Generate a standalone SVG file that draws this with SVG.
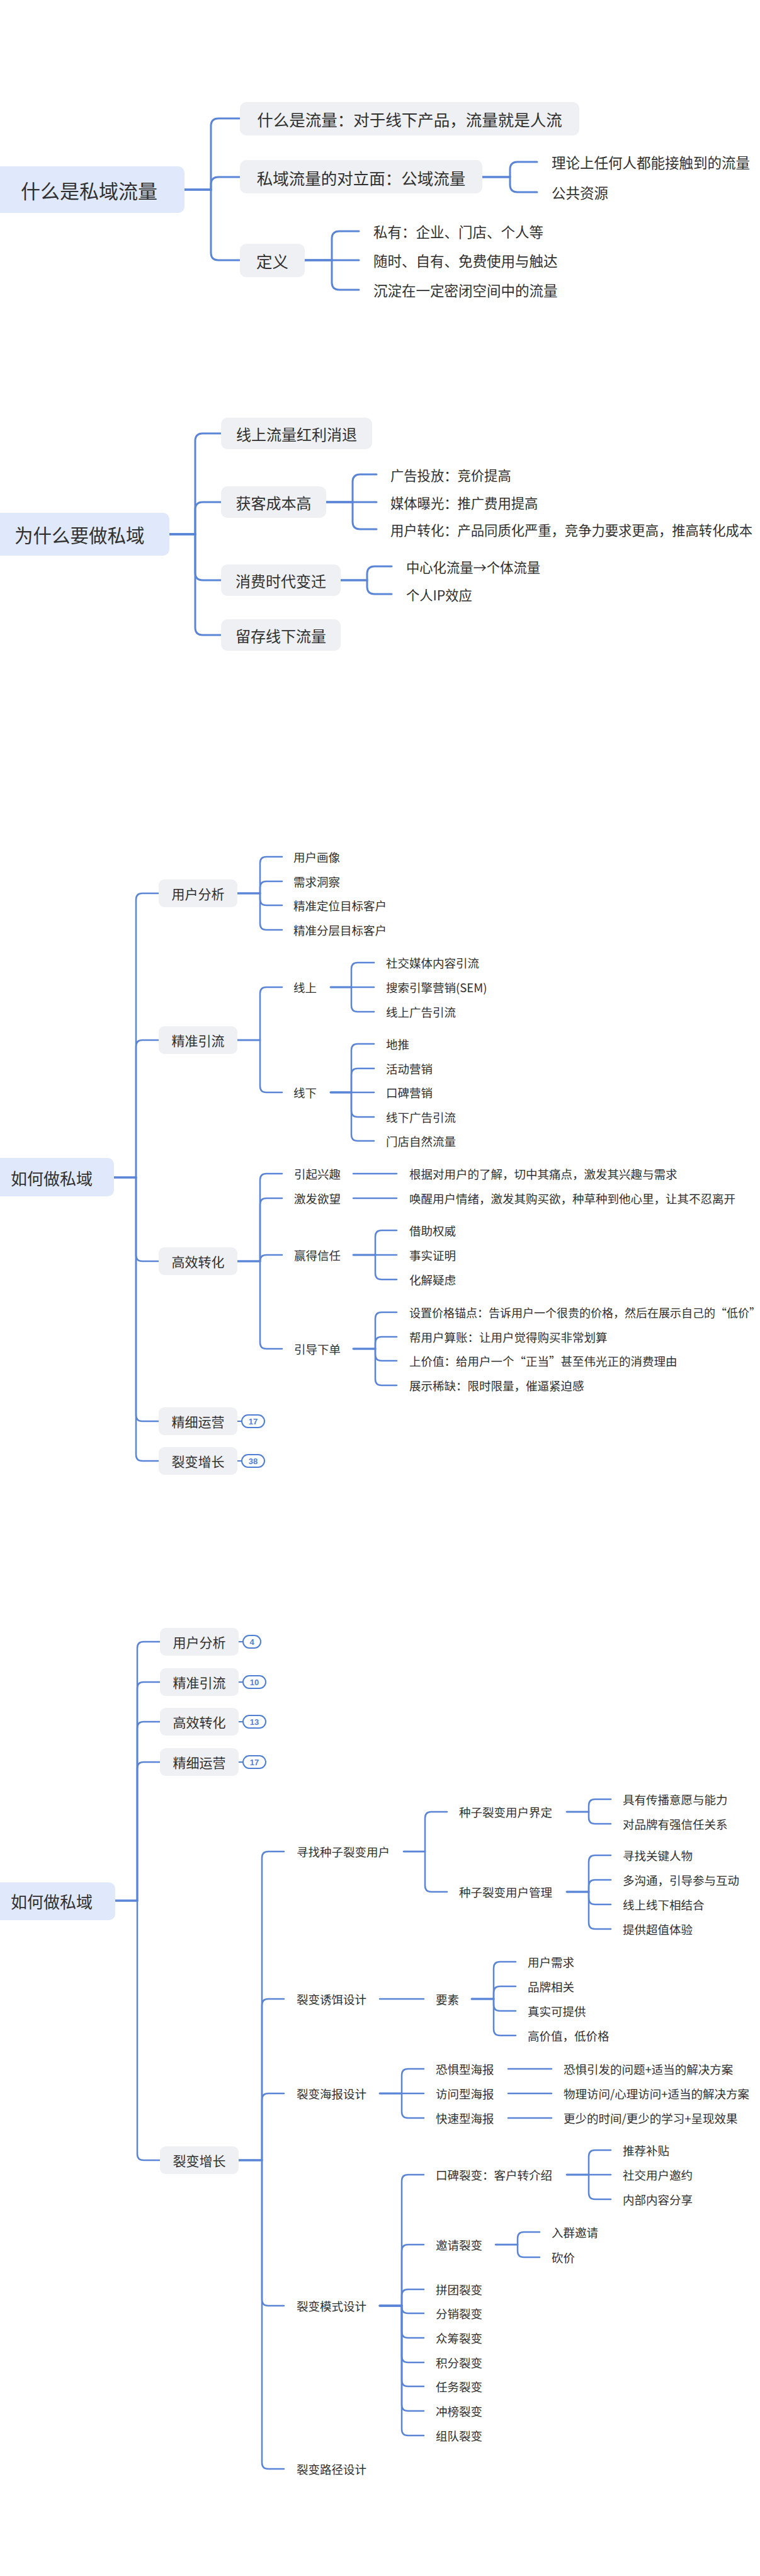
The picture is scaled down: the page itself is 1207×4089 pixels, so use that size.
<svg xmlns="http://www.w3.org/2000/svg" width="1207" height="4089" viewBox="0 0 1207 4089">
<style>
text{font-family:"Noto Sans CJK SC","Noto Sans",sans-serif;fill:#303030;dominant-baseline:central}
.root{fill:#e0e8fb}
.box{fill:#eef0f3}
.t1{font-size:31px}
.t2{font-size:29.5px}
.t3{font-size:26px}
.m1{font-size:25.5px;text-anchor:middle}
.m2{font-size:24px;text-anchor:middle}
.m3{font-size:21px;text-anchor:middle}
.l1{font-size:22.5px}
.l2{font-size:21.3px}
.l3{font-size:18.5px}
.l3s{font-size:18px}
.con path{fill:none;stroke:#5a85d6;stroke-width:2.5;stroke-linecap:round}
.con .thick path{stroke-width:3}
.badge rect{fill:#fff;stroke:#4f7fd3;stroke-width:2}
.badge line{stroke:#4f7fd3;stroke-width:2}
.badge text{font-family:"Liberation Sans",Arial,sans-serif;font-weight:bold;font-size:13px;fill:#4f7fd3;text-anchor:middle}
</style>

<g id="connectors" class="con">
<g class="thick">
<path d="M293 301 H335 V200 Q335 188 347 188 H381"/>
<path d="M293 301 H335 V293 Q335 281 347 281 H381"/>
<path d="M293 301 H335 V401 Q335 413 347 413 H381"/>
<path d="M766 281 H810 V269 Q810 257 822 257 H853"/>
<path d="M766 281 H810 V293 Q810 305 822 305 H853"/>
<path d="M484 413 H527 V379 Q527 367 539 367 H570"/>
<path d="M484 413 H570"/>
<path d="M484 413 H527 V448 Q527 460 539 460 H570"/>
<path d="M269 848 H310 V700 Q310 688 322 688 H351"/>
<path d="M269 848 H310 V809 Q310 797 322 797 H351"/>
<path d="M269 848 H310 V909 Q310 921 322 921 H351"/>
<path d="M269 848 H310 V996 Q310 1008 322 1008 H351"/>
<path d="M518 797 H560 V765 Q560 753 572 753 H598"/>
<path d="M518 797 H598"/>
<path d="M518 797 H560 V828 Q560 840 572 840 H598"/>
<path d="M541 921 H583 V911 Q583 899 595 899 H622"/>
<path d="M541 921 H583 V931 Q583 943 595 943 H622"/>
</g>
<path d="M181 1869 H216 V1428 Q216 1418 226 1418 H252"/>
<path d="M181 1869 H216 V1661 Q216 1651 226 1651 H252"/>
<path d="M181 1869 H216 V1992 Q216 2002 226 2002 H252"/>
<path d="M181 1869 H216 V2246 Q216 2256 226 2256 H252"/>
<path d="M181 1869 H216 V2309 Q216 2319 226 2319 H252"/>
<path d="M377 1418 H413 V1370 Q413 1360 423 1360 H448"/>
<path d="M377 1418 H413 V1409 Q413 1399 423 1399 H448"/>
<path d="M377 1418 H413 V1427 Q413 1437 423 1437 H448"/>
<path d="M377 1418 H413 V1466 Q413 1476 423 1476 H448"/>
<path d="M377 1651 H413 V1577 Q413 1567 423 1567 H448"/>
<path d="M377 1651 H413 V1724 Q413 1734 423 1734 H448"/>
<path d="M525 1567 H558 V1538 Q558 1528 568 1528 H594"/>
<path d="M525 1567 H594"/>
<path d="M525 1567 H558 V1596 Q558 1606 568 1606 H594"/>
<path d="M525 1734 H558 V1667 Q558 1657 568 1657 H594"/>
<path d="M525 1734 H558 V1706 Q558 1696 568 1696 H594"/>
<path d="M525 1734 H594"/>
<path d="M525 1734 H558 V1763 Q558 1773 568 1773 H594"/>
<path d="M525 1734 H558 V1801 Q558 1811 568 1811 H594"/>
<path d="M377 2002 H413 V1873 Q413 1863 423 1863 H448"/>
<path d="M377 2002 H413 V1912 Q413 1902 423 1902 H448"/>
<path d="M377 2002 H413 Q413 1992 423 1992 H448"/>
<path d="M377 2002 H413 V2131 Q413 2141 423 2141 H448"/>
<path d="M561 1863 H630"/>
<path d="M561 1902 H630"/>
<path d="M561 1992 H596 V1963 Q596 1953 606 1953 H630"/>
<path d="M561 1992 H630"/>
<path d="M561 1992 H596 V2021 Q596 2031 606 2031 H630"/>
<path d="M561 2141 H596 V2093 Q596 2083 606 2083 H630"/>
<path d="M561 2141 H596 V2132 Q596 2122 606 2122 H630"/>
<path d="M561 2141 H596 V2150 Q596 2160 606 2160 H630"/>
<path d="M561 2141 H596 V2189 Q596 2199 606 2199 H630"/>
<path d="M183 3017 H218 V2616 Q218 2606 228 2606 H254"/>
<path d="M183 3017 H218 V2680 Q218 2670 228 2670 H254"/>
<path d="M183 3017 H218 V2743 Q218 2733 228 2733 H254"/>
<path d="M183 3017 H218 V2807 Q218 2797 228 2797 H254"/>
<path d="M183 3017 H218 V3419 Q218 3429 228 3429 H254"/>
<path d="M379 3429 H416 V2949 Q416 2939 426 2939 H451"/>
<path d="M379 3429 H416 V3183 Q416 3173 426 3173 H451"/>
<path d="M379 3429 H416 V3333 Q416 3323 426 3323 H451"/>
<path d="M379 3429 H416 V3650 Q416 3660 426 3660 H451"/>
<path d="M379 3429 H416 V3909 Q416 3919 426 3919 H451"/>
<path d="M641 2939 H675 V2886 Q675 2876 685 2876 H710"/>
<path d="M641 2939 H675 V2993 Q675 3003 685 3003 H710"/>
<path d="M900 2876 H935 V2866 Q935 2856 945 2856 H970"/>
<path d="M900 2876 H935 V2885 Q935 2895 945 2895 H970"/>
<path d="M900 3003 H935 V2955 Q935 2945 945 2945 H970"/>
<path d="M900 3003 H935 V2994 Q935 2984 945 2984 H970"/>
<path d="M900 3003 H935 V3013 Q935 3023 945 3023 H970"/>
<path d="M900 3003 H935 V3052 Q935 3062 945 3062 H970"/>
<path d="M603 3173 H673"/>
<path d="M749 3173 H784 V3124 Q784 3114 794 3114 H819"/>
<path d="M749 3173 H784 V3163 Q784 3153 794 3153 H819"/>
<path d="M749 3173 H784 V3182 Q784 3192 794 3192 H819"/>
<path d="M749 3173 H784 V3221 Q784 3231 794 3231 H819"/>
<path d="M603 3323 H638 V3294 Q638 3284 648 3284 H673"/>
<path d="M603 3323 H673"/>
<path d="M603 3323 H638 V3352 Q638 3362 648 3362 H673"/>
<path d="M807 3284 H876"/>
<path d="M807 3323 H876"/>
<path d="M807 3362 H876"/>
<path d="M603 3660 H638 V3462 Q638 3452 648 3452 H673"/>
<path d="M603 3660 H638 V3573 Q638 3563 648 3563 H673"/>
<path d="M603 3660 H638 V3644 Q638 3634 648 3634 H673"/>
<path d="M603 3660 H638 V3662 Q638 3672 648 3672 H673"/>
<path d="M603 3660 H638 V3701 Q638 3711 648 3711 H673"/>
<path d="M603 3660 H638 V3740 Q638 3750 648 3750 H673"/>
<path d="M603 3660 H638 V3778 Q638 3788 648 3788 H673"/>
<path d="M603 3660 H638 V3817 Q638 3827 648 3827 H673"/>
<path d="M603 3660 H638 V3856 Q638 3866 648 3866 H673"/>
<path d="M900 3452 H935 V3423 Q935 3413 945 3413 H970"/>
<path d="M900 3452 H970"/>
<path d="M900 3452 H935 V3481 Q935 3491 945 3491 H970"/>
<path d="M787 3563 H822 V3553 Q822 3543 832 3543 H857"/>
<path d="M787 3563 H822 V3573 Q822 3583 832 3583 H857"/>
</g>

<!-- Section 1 -->
<g id="s1-root"><rect class="root" x="-10" y="264" width="303" height="74" rx="10"/><text class="t1" x="33" y="301">什么是私域流量</text></g>
<g id="s1-n1"><rect class="box" x="381" y="162" width="539" height="53" rx="10"/><text class="m1" x="650.5" y="188">什么是流量：对于线下产品，流量就是人流</text></g>
<g id="s1-n2"><rect class="box" x="381" y="254" width="385" height="53" rx="10"/><text class="m1" x="573.5" y="281">私域流量的对立面：公域流量</text></g>
<g id="s1-n3"><rect class="box" x="381" y="387" width="103" height="53" rx="10"/><text class="m1" x="432.5" y="413">定义</text></g>
<g id="s1-n2-1"><text class="l1" x="876" y="257">理论上任何人都能接触到的流量</text></g>
<g id="s1-n2-2"><text class="l1" x="876" y="305">公共资源</text></g>
<g id="s1-n3-1"><text class="l1" x="593" y="367">私有：企业、门店、个人等</text></g>
<g id="s1-n3-2"><text class="l1" x="593" y="413">随时、自有、免费使用与触达</text></g>
<g id="s1-n3-3"><text class="l1" x="593" y="460">沉淀在一定密闭空间中的流量</text></g>

<!-- Section 2 -->
<g id="s2-root"><rect class="root" x="-10" y="814" width="279" height="68" rx="10"/><text class="t2" x="23" y="848">为什么要做私域</text></g>
<g id="s2-n1"><rect class="box" x="351" y="663" width="240" height="50" rx="10"/><text class="m2" x="471" y="688">线上流量红利消退</text></g>
<g id="s2-n2"><rect class="box" x="351" y="772" width="167" height="50" rx="10"/><text class="m2" x="434.5" y="797">获客成本高</text></g>
<g id="s2-n3"><rect class="box" x="351" y="896" width="190" height="50" rx="10"/><text class="m2" x="446" y="921">消费时代变迁</text></g>
<g id="s2-n4"><rect class="box" x="351" y="983" width="190" height="50" rx="10"/><text class="m2" x="446" y="1008">留存线下流量</text></g>
<g id="s2-n2-1"><text class="l2" x="620" y="753">广告投放：竞价提高</text></g>
<g id="s2-n2-2"><text class="l2" x="620" y="797">媒体曝光：推广费用提高</text></g>
<g id="s2-n2-3"><text class="l2" x="620" y="840">用户转化：产品同质化严重，竞争力要求更高，推高转化成本</text></g>
<g id="s2-n3-1"><text class="l2" x="645" y="899">中心化流量→个体流量</text></g>
<g id="s2-n3-2"><text class="l2" x="645" y="943">个人IP效应</text></g>

<!-- Section 3 -->
<g id="s3-root"><rect class="root" x="-10" y="1838" width="191" height="61" rx="10"/><text class="t3" x="17" y="1869">如何做私域</text></g>
<g id="s3-n1"><rect class="box" x="252" y="1396" width="125" height="44" rx="9"/><text class="m3" x="314.5" y="1418">用户分析</text></g>
<g id="s3-n2"><rect class="box" x="252" y="1629" width="125" height="44" rx="9"/><text class="m3" x="314.5" y="1651">精准引流</text></g>
<g id="s3-n3"><rect class="box" x="252" y="1980" width="125" height="44" rx="9"/><text class="m3" x="314.5" y="2002">高效转化</text></g>
<g id="s3-n4"><rect class="box" x="252" y="2234" width="125" height="44" rx="9"/><text class="m3" x="314.5" y="2256">精细运营</text>
<g class="badge"><line x1="377" y1="2256" x2="384" y2="2256"/><rect x="384" y="2246" width="36" height="20" rx="10"/><text x="402" y="2256">17</text></g></g>
<g id="s3-n5"><rect class="box" x="252" y="2297" width="125" height="44" rx="9"/><text class="m3" x="314.5" y="2319">裂变增长</text>
<g class="badge"><line x1="377" y1="2319" x2="384" y2="2319"/><rect x="384" y="2309" width="36" height="20" rx="10"/><text x="402" y="2319">38</text></g></g>
<g id="s3-n1-1"><text class="l3" x="466" y="1360">用户画像</text></g>
<g id="s3-n1-2"><text class="l3" x="466" y="1399">需求洞察</text></g>
<g id="s3-n1-3"><text class="l3" x="466" y="1437">精准定位目标客户</text></g>
<g id="s3-n1-4"><text class="l3" x="466" y="1476">精准分层目标客户</text></g>
<g id="s3-n2-1"><text class="l3" x="466" y="1567">线上</text></g>
<g id="s3-n2-2"><text class="l3" x="466" y="1734">线下</text></g>
<g id="s3-n2-1-1"><text class="l3" x="613" y="1528">社交媒体内容引流</text></g>
<g id="s3-n2-1-2"><text class="l3" x="613" y="1567">搜索引擎营销(SEM)</text></g>
<g id="s3-n2-1-3"><text class="l3" x="613" y="1606">线上广告引流</text></g>
<g id="s3-n2-2-1"><text class="l3" x="613" y="1657">地推</text></g>
<g id="s3-n2-2-2"><text class="l3" x="613" y="1696">活动营销</text></g>
<g id="s3-n2-2-3"><text class="l3" x="613" y="1734">口碑营销</text></g>
<g id="s3-n2-2-4"><text class="l3" x="613" y="1773">线下广告引流</text></g>
<g id="s3-n2-2-5"><text class="l3" x="613" y="1811">门店自然流量</text></g>
<g id="s3-n3-1"><text class="l3" x="467" y="1863">引起兴趣</text></g>
<g id="s3-n3-2"><text class="l3" x="467" y="1902">激发欲望</text></g>
<g id="s3-n3-3"><text class="l3" x="467" y="1992">赢得信任</text></g>
<g id="s3-n3-4"><text class="l3" x="467" y="2141">引导下单</text></g>
<g id="s3-n3-1-1"><text class="l3" x="650" y="1863">根据对用户的了解，切中其痛点，激发其兴趣与需求</text></g>
<g id="s3-n3-2-1"><text class="l3" x="650" y="1902">唤醒用户情绪，激发其购买欲，种草种到他心里，让其不忍离开</text></g>
<g id="s3-n3-3-1"><text class="l3" x="650" y="1953">借助权威</text></g>
<g id="s3-n3-3-2"><text class="l3" x="650" y="1992">事实证明</text></g>
<g id="s3-n3-3-3"><text class="l3" x="650" y="2031">化解疑虑</text></g>
<g id="s3-n3-4-1"><text class="l3s" x="650" y="2083">设置价格锚点：告诉用户一个很贵的价格，然后在展示自己的“低价”</text></g>
<g id="s3-n3-4-2"><text class="l3" x="650" y="2122">帮用户算账：让用户觉得购买非常划算</text></g>
<g id="s3-n3-4-3"><text class="l3" x="650" y="2160">上价值：给用户一个“正当”甚至伟光正的消费理由</text></g>
<g id="s3-n3-4-4"><text class="l3" x="650" y="2199">展示稀缺：限时限量，催逼紧迫感</text></g>

<!-- Section 4 -->
<g id="s4-root"><rect class="root" x="-10" y="2988" width="193" height="60" rx="10"/><text class="t3" x="17" y="3017">如何做私域</text></g>
<g id="s4-n1"><rect class="box" x="254" y="2584" width="125" height="44" rx="9"/><text class="m3" x="316.5" y="2606">用户分析</text>
<g class="badge"><line x1="379" y1="2606" x2="386" y2="2606"/><rect x="386" y="2596" width="28" height="20" rx="10"/><text x="400" y="2606">4</text></g></g>
<g id="s4-n2"><rect class="box" x="254" y="2648" width="125" height="44" rx="9"/><text class="m3" x="316.5" y="2670">精准引流</text>
<g class="badge"><line x1="379" y1="2670" x2="386" y2="2670"/><rect x="386" y="2660" width="36" height="20" rx="10"/><text x="404" y="2670">10</text></g></g>
<g id="s4-n3"><rect class="box" x="254" y="2711" width="125" height="44" rx="9"/><text class="m3" x="316.5" y="2733">高效转化</text>
<g class="badge"><line x1="379" y1="2733" x2="386" y2="2733"/><rect x="386" y="2723" width="36" height="20" rx="10"/><text x="404" y="2733">13</text></g></g>
<g id="s4-n4"><rect class="box" x="254" y="2775" width="125" height="44" rx="9"/><text class="m3" x="316.5" y="2797">精细运营</text>
<g class="badge"><line x1="379" y1="2797" x2="386" y2="2797"/><rect x="386" y="2787" width="36" height="20" rx="10"/><text x="404" y="2797">17</text></g></g>
<g id="s4-n5"><rect class="box" x="254" y="3407" width="125" height="44" rx="9"/><text class="m3" x="316.5" y="3429">裂变增长</text></g>
<g id="s4-n5-1"><text class="l3" x="471" y="2939">寻找种子裂变用户</text></g>
<g id="s4-n5-1-1"><text class="l3" x="729" y="2876">种子裂变用户界定</text></g>
<g id="s4-n5-1-1-1"><text class="l3" x="989" y="2856">具有传播意愿与能力</text></g>
<g id="s4-n5-1-1-2"><text class="l3" x="989" y="2895">对品牌有强信任关系</text></g>
<g id="s4-n5-1-2"><text class="l3" x="729" y="3003">种子裂变用户管理</text></g>
<g id="s4-n5-1-2-1"><text class="l3" x="989" y="2945">寻找关键人物</text></g>
<g id="s4-n5-1-2-2"><text class="l3" x="989" y="2984">多沟通，引导参与互动</text></g>
<g id="s4-n5-1-2-3"><text class="l3" x="989" y="3023">线上线下相结合</text></g>
<g id="s4-n5-1-2-4"><text class="l3" x="989" y="3062">提供超值体验</text></g>
<g id="s4-n5-2"><text class="l3" x="471" y="3173">裂变诱饵设计</text></g>
<g id="s4-n5-2-1"><text class="l3" x="692" y="3173">要素</text></g>
<g id="s4-n5-2-1-1"><text class="l3" x="838" y="3114">用户需求</text></g>
<g id="s4-n5-2-1-2"><text class="l3" x="838" y="3153">品牌相关</text></g>
<g id="s4-n5-2-1-3"><text class="l3" x="838" y="3192">真实可提供</text></g>
<g id="s4-n5-2-1-4"><text class="l3" x="838" y="3231">高价值，低价格</text></g>
<g id="s4-n5-3"><text class="l3" x="471" y="3323">裂变海报设计</text></g>
<g id="s4-n5-3-1"><text class="l3" x="692" y="3284">恐惧型海报</text></g>
<g id="s4-n5-3-1-1"><text class="l3" x="895" y="3284">恐惧引发的问题+适当的解决方案</text></g>
<g id="s4-n5-3-2"><text class="l3" x="692" y="3323">访问型海报</text></g>
<g id="s4-n5-3-2-1"><text class="l3" x="895" y="3323">物理访问/心理访问+适当的解决方案</text></g>
<g id="s4-n5-3-3"><text class="l3" x="692" y="3362">快速型海报</text></g>
<g id="s4-n5-3-3-1"><text class="l3" x="895" y="3362">更少的时间/更少的学习+呈现效果</text></g>
<g id="s4-n5-4"><text class="l3" x="471" y="3660">裂变模式设计</text></g>
<g id="s4-n5-4-1"><text class="l3" x="692" y="3452">口碑裂变：客户转介绍</text></g>
<g id="s4-n5-4-1-1"><text class="l3" x="989" y="3413">推荐补贴</text></g>
<g id="s4-n5-4-1-2"><text class="l3" x="989" y="3452">社交用户邀约</text></g>
<g id="s4-n5-4-1-3"><text class="l3" x="989" y="3491">内部内容分享</text></g>
<g id="s4-n5-4-2"><text class="l3" x="692" y="3563">邀请裂变</text></g>
<g id="s4-n5-4-2-1"><text class="l3" x="876" y="3543">入群邀请</text></g>
<g id="s4-n5-4-2-2"><text class="l3" x="876" y="3583">砍价</text></g>
<g id="s4-n5-4-3"><text class="l3" x="692" y="3634">拼团裂变</text></g>
<g id="s4-n5-4-4"><text class="l3" x="692" y="3672">分销裂变</text></g>
<g id="s4-n5-4-5"><text class="l3" x="692" y="3711">众筹裂变</text></g>
<g id="s4-n5-4-6"><text class="l3" x="692" y="3750">积分裂变</text></g>
<g id="s4-n5-4-7"><text class="l3" x="692" y="3788">任务裂变</text></g>
<g id="s4-n5-4-8"><text class="l3" x="692" y="3827">冲榜裂变</text></g>
<g id="s4-n5-4-9"><text class="l3" x="692" y="3866">组队裂变</text></g>
<g id="s4-n5-5"><text class="l3" x="471" y="3919">裂变路径设计</text></g>
</svg>
